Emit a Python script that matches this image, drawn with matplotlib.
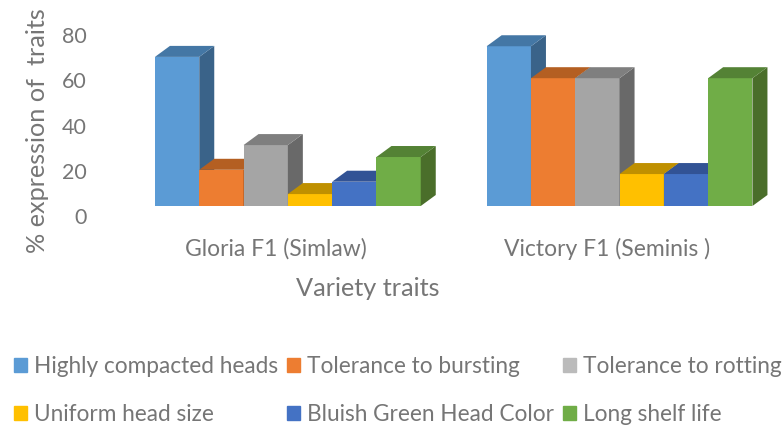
import numpy as np
import matplotlib
matplotlib.use("Agg")
import matplotlib.pyplot as plt
from matplotlib.patches import Polygon

varieties = ["Gloria F1 (Simlaw)", "Victory F1 (Seminis )"]
traits = ["Highly compacted heads", "Tolerance to bursting", "Tolerance to rotting",
          "Uniform head size", "Bluish Green Head Color", "Long shelf life"]
gloria = [70, 17, 28.6, 5.6, 11.4, 23]
victory = [75, 60, 60, 15, 15, 60]
y_ticks = [0, 20, 40, 60, 80]

front_colors = ["#5B9BD5", "#ED7D31", "#A5A5A5", "#FFC000", "#4472C4", "#70AD47"]
top_colors = ["#4477A5", "#B45F22", "#7F7F7F", "#BF9000", "#325395", "#548235"]
side_colors = ["#3A6389", "#9A5020", "#696969", "#A37B00", "#2A4680", "#4A6E2A"]
legend_colors = ["#5B9BD5", "#ED7D31", "#BBBBBB", "#FFC000", "#4472C4", "#70AD47"]

W, H = 783, 426
text_color = "#767676"
plt.rcParams["font.family"] = ["Lato", "DejaVu Sans"]

fig = plt.figure(figsize=(W / 100, H / 100), dpi=100)


def pixel_axes(left, right, top, bottom):
    return fig.add_axes([left / W, 1 - bottom / H, (right - left) / W, (bottom - top) / H])


# bars live on their own axes, the value labels sit on the back wall scale
ax = pixel_axes(122, 783, 36, 206)
ax.set_xlim(-0.5, -0.5 + 661 / 331.7)
ax.set_ylim(0, 170 / 2.13)
ax.patch.set_alpha(0)

x = np.arange(len(varieties))
bar_w = 44.3 / 331.7
dx = 15 / 331.7
dy = 11 / 2.13

for i in range(len(traits)):
    vals = [gloria[i], victory[i]]
    pos = x + (i - 2.5) * bar_w
    ax.bar(pos, vals, bar_w, color=front_colors[i], zorder=i + 2, clip_on=False)
    for p, v in zip(pos, vals):
        l, r = p - bar_w / 2, p + bar_w / 2
        side = Polygon([(r, 0), (r + dx, dy), (r + dx, v + dy), (r, v)],
                       facecolor=side_colors[i], edgecolor="none", zorder=i + 2, clip_on=False)
        top = Polygon([(l, v), (l + dx, v + dy), (r + dx, v + dy), (r, v)],
                      facecolor=top_colors[i], edgecolor="none", zorder=i + 2, clip_on=False)
        ax.add_patch(side)
        ax.add_patch(top)

for s in ax.spines.values():
    s.set_visible(False)
ax.set_yticks([])
ax.set_xticks(x - 12 / 331.7)
ax.set_xticklabels(varieties, fontsize=16.5, color=text_color)
ax.tick_params(axis="x", length=0, pad=23)
ax.set_xlabel("Variety traits", fontsize=18.2, color=text_color)
ax.xaxis.set_label_coords((368 - 122) / 661, (206 - 288) / 170, transform=ax.transAxes)
ax.xaxis.label.set_va("center")

ax2 = pixel_axes(92, 122, 35, 216)
ax2.patch.set_alpha(0)
ax2.set_ylim(0, 80)
ax2.set_xticks([])
ax2.set_yticks(y_ticks)
ax2.tick_params(axis="y", length=0, pad=4, labelsize=15.5, labelcolor=text_color)
for s in ax2.spines.values():
    s.set_visible(False)
ax2.set_ylabel("% expression of  traits", fontsize=18.2, color=text_color, va="center")
ax2.yaxis.set_label_coords((38 - 92) / 30, (216 - 130.5) / 181)

handles = [plt.Rectangle((0, 0), 1, 1, color=c) for c in legend_colors]
# legend fills by column, so reorder to read across the rows
order = [0, 3, 1, 4, 2, 5]
fig.legend([handles[k] for k in order], [traits[k] for k in order],
           ncols=3, loc="upper left", bbox_to_anchor=(14 / W, 1 - 356 / H),
           frameon=False, fontsize=16.3, labelcolor=text_color,
           handlelength=0.58, handleheight=0.58, handletextpad=0.3,
           columnspacing=0.4, labelspacing=1.2, borderpad=0, borderaxespad=0)

fig.savefig("out.png", dpi=100)
